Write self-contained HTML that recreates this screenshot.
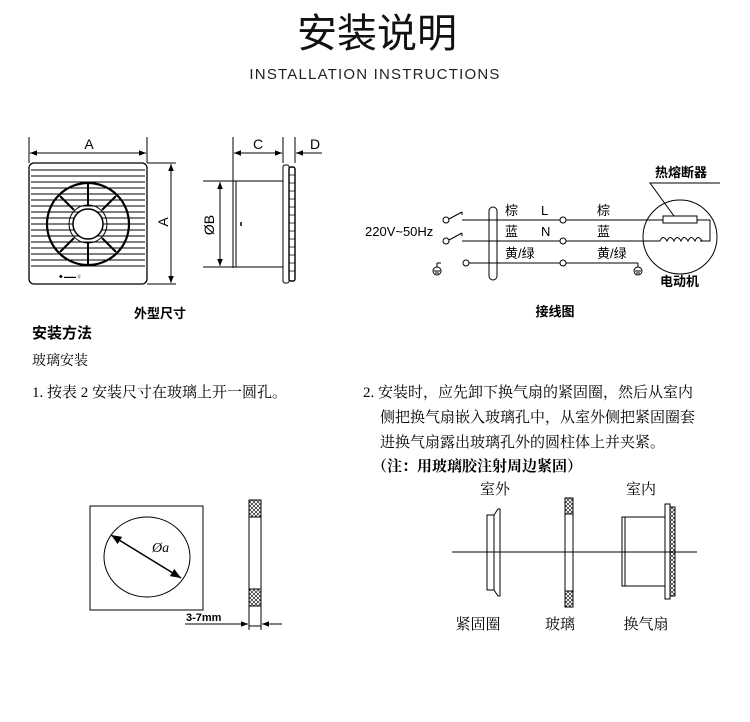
<!DOCTYPE html>
<html><head><meta charset="utf-8"><style>
body{margin:0;background:#fff;}
svg{display:block}
.s{font-family:"Liberation Sans","Noto Sans CJK SC",sans-serif;}
.r{font-family:"Liberation Serif","Noto Serif CJK SC",serif;}
</style></head><body>
<svg width="750" height="722" viewBox="0 0 750 722" xmlns="http://www.w3.org/2000/svg" stroke-linecap="butt">
<defs>
<marker id="ar" viewBox="0 0 10 10" refX="10" refY="5" markerWidth="7" markerHeight="7" orient="auto-start-reverse"><path d="M0,1 L10,5 L0,9 z" fill="#000"/></marker>
<pattern id="hx" width="4" height="4" patternUnits="userSpaceOnUse"><path d="M0,0 L4,4 M4,0 L0,4" stroke="#000" stroke-width="0.6"/></pattern>
</defs>
<text x="377" y="47" text-anchor="middle" class="s" font-size="40" fill="#111">安装说明</text>
<text x="375" y="79" text-anchor="middle" class="s" font-size="15" letter-spacing="1.2" fill="#222">INSTALLATION INSTRUCTIONS</text>

<g stroke="#000" fill="none" stroke-width="1">
<!-- front view -->
<line x1="29" y1="137" x2="29" y2="163"/><line x1="147" y1="137" x2="147" y2="163"/>
<line x1="30" y1="153" x2="146" y2="153" marker-start="url(#ar)" marker-end="url(#ar)"/>
<rect x="29" y="163" width="118" height="121" rx="5" stroke-width="1.3"/>
<line x1="147" y1="163" x2="176" y2="163"/><line x1="147" y1="284" x2="176" y2="284"/>
<line x1="171" y1="164" x2="171" y2="283" marker-start="url(#ar)" marker-end="url(#ar)"/>
<g stroke-width="0.9">
<line x1="31" y1="170" x2="145" y2="170"/><line x1="31" y1="176" x2="145" y2="176"/><line x1="31" y1="182" x2="145" y2="182"/><line x1="31" y1="188" x2="145" y2="188"/><line x1="31" y1="194" x2="145" y2="194"/><line x1="31" y1="200" x2="145" y2="200"/><line x1="31" y1="206" x2="145" y2="206"/><line x1="31" y1="212" x2="145" y2="212"/><line x1="31" y1="218" x2="145" y2="218"/><line x1="31" y1="224" x2="145" y2="224"/><line x1="31" y1="230" x2="145" y2="230"/><line x1="31" y1="236" x2="145" y2="236"/><line x1="31" y1="242" x2="145" y2="242"/><line x1="31" y1="248" x2="145" y2="248"/><line x1="31" y1="254" x2="145" y2="254"/><line x1="31" y1="260" x2="145" y2="260"/><line x1="31" y1="266" x2="145" y2="266"/>
</g>
<circle cx="88" cy="224" r="41" stroke-width="2.2"/>
<circle cx="88" cy="224" r="15" fill="#fff" stroke-width="1.5"/>
<circle cx="88" cy="224" r="19" stroke-width="1"/>
<g stroke-width="2"><line x1="88" y1="183" x2="88" y2="205"/><line x1="88" y1="243" x2="88" y2="265"/>
<line x1="60" y1="196" x2="74" y2="210"/><line x1="116" y1="196" x2="102" y2="210"/><line x1="60" y1="252" x2="74" y2="238"/><line x1="116" y1="252" x2="102" y2="238"/></g>
<!-- side view -->
<line x1="233" y1="137" x2="233" y2="268"/>
<line x1="283" y1="137" x2="283" y2="163"/><line x1="295" y1="137" x2="295" y2="163"/>
<line x1="234" y1="153" x2="282" y2="153" marker-start="url(#ar)" marker-end="url(#ar)"/>
<line x1="322" y1="153" x2="296" y2="153" marker-end="url(#ar)"/>
<line x1="203" y1="181" x2="283" y2="181"/><line x1="203" y1="267" x2="283" y2="267"/>
<line x1="220" y1="182" x2="220" y2="266" marker-start="url(#ar)" marker-end="url(#ar)"/>
<line x1="236" y1="181" x2="236" y2="267"/>
<line x1="241" y1="222" x2="241" y2="226" stroke-width="1.5"/>
<rect x="283" y="165" width="6" height="118" rx="2"/>
<rect x="289" y="167" width="6" height="114" rx="2" stroke-width="1.4"/>
<path d="M289,175 h6 M289,183 h6 M289,191 h6 M289,199 h6 M289,207 h6 M289,215 h6 M289,223 h6 M289,231 h6 M289,239 h6 M289,247 h6 M289,255 h6 M289,263 h6 M289,271 h6" stroke-width="0.8"/>
</g>
<text x="89" y="149" text-anchor="middle" class="s" font-size="14">A</text>
<text x="258" y="149" text-anchor="middle" class="s" font-size="14">C</text>
<text x="315" y="149" text-anchor="middle" class="s" font-size="14">D</text>
<text transform="translate(168,222) rotate(-90)" text-anchor="middle" class="s" font-size="14">A</text>
<text transform="translate(214,225) rotate(-90)" text-anchor="middle" class="s" font-size="14">ØB</text>
<text x="70" y="278" text-anchor="middle" class="s" font-size="4">◆ ▬▬▬ ⓪</text>
<text x="160" y="318" text-anchor="middle" class="s" font-size="13" font-weight="bold">外型尺寸</text>

<!-- wiring -->
<g stroke="#000" fill="none" stroke-width="1">
<circle cx="446" cy="220" r="3"/><circle cx="446" cy="241" r="3"/><circle cx="466" cy="263" r="3"/>
<line x1="449" y1="219" x2="462" y2="212"/><line x1="462" y1="212" x2="462" y2="215"/>
<line x1="449" y1="240" x2="462" y2="233"/><line x1="462" y1="233" x2="462" y2="236"/>
<line x1="462" y1="220" x2="560" y2="220"/><line x1="566" y1="220" x2="663" y2="220"/>
<line x1="462" y1="241" x2="560" y2="241"/><line x1="566" y1="241" x2="660" y2="241"/>
<line x1="469" y1="263" x2="560" y2="263"/><line x1="566" y1="263" x2="638" y2="263"/>
<line x1="441" y1="263" x2="437" y2="263"/><line x1="437" y1="263" x2="437" y2="267"/>
<line x1="638" y1="263" x2="638" y2="267"/>
<circle cx="563" cy="220" r="3"/><circle cx="563" cy="241" r="3"/><circle cx="563" cy="263" r="3"/>
<rect x="489" y="207" width="8" height="73" rx="4"/>
<circle cx="437" cy="271" r="4"/><line x1="434" y1="271" x2="440" y2="271"/><line x1="435" y1="273" x2="439" y2="273"/>
<circle cx="638" cy="271" r="4"/><line x1="635" y1="271" x2="641" y2="271"/><line x1="636" y1="273" x2="640" y2="273"/>
<circle cx="680" cy="237" r="37"/>
<rect x="663" y="216" width="34" height="7"/>
<path d="M697,220 h13 v21 h-10"/>
<path d="M660,241 q3,-7 7,0 q3,-7 7,0 q3,-7 7,0 q3,-7 7,0 q3,-7 7,0 q3,-7 7,0"/>
<path d="M720,183 h-70 l24,33"/>
</g>
<text x="365" y="236" class="s" font-size="13">220V~50Hz</text>
<g class="s" font-size="13" fill="#000">
<text x="505" y="215">棕</text><text x="541" y="215">L</text><text x="597" y="215">棕</text>
<text x="505" y="236">蓝</text><text x="541" y="236">N</text><text x="597" y="236">蓝</text>
<text x="505" y="258">黄/绿</text><text x="597" y="258">黄/绿</text>
<text x="655" y="177" font-weight="bold">热熔断器</text>
<text x="660" y="286" font-weight="bold">电动机</text>
<text x="555" y="316" text-anchor="middle" font-weight="bold">接线图</text>
</g>

<!-- text -->
<text x="32" y="338" class="s" font-size="15" font-weight="bold">安装方法</text>
<text x="32" y="365" class="r" font-size="14">玻璃安装</text>
<text x="32" y="397" class="r" font-size="15">1. 按表 2 安装尺寸在玻璃上开一圆孔。</text>
<g class="r" font-size="15">
<text x="363" y="397">2. 安装时，应先卸下换气扇的紧固圈，然后从室内</text>
<text x="380" y="422">侧把换气扇嵌入玻璃孔中，从室外侧把紧固圈套</text>
<text x="380" y="447">进换气扇露出玻璃孔外的圆柱体上并夹紧。</text>
<text x="372" y="471" font-weight="bold">（注：用玻璃胶注射周边紧固）</text>
</g>

<!-- bottom -->
<g stroke="#000" fill="none" stroke-width="1">
<rect x="90" y="506" width="113" height="104"/>
<ellipse cx="147" cy="557" rx="43" ry="40"/>
<line x1="111" y1="535" x2="181" y2="578" stroke-width="1.5" marker-start="url(#ar)" marker-end="url(#ar)"/>
<rect x="249" y="500" width="12" height="126"/>
<rect x="249" y="500" width="12" height="17" fill="url(#hx)"/>
<rect x="249" y="589" width="12" height="17" fill="url(#hx)"/>
<line x1="185" y1="624" x2="248" y2="624" marker-end="url(#ar)"/>
<line x1="282" y1="624" x2="262" y2="624" marker-end="url(#ar)"/>
<line x1="249" y1="610" x2="249" y2="630"/><line x1="261" y1="610" x2="261" y2="630"/>
<line x1="452" y1="552" x2="697" y2="552"/>
<rect x="487" y="515" width="7" height="75"/>
<path d="M494,515 L498,509 L500,509 L500,596 L498,596 L494,590"/>
<rect x="565" y="498" width="8" height="109"/>
<rect x="565" y="498" width="8" height="16" fill="url(#hx)"/>
<rect x="565" y="591" width="8" height="16" fill="url(#hx)"/>
<rect x="622" y="517" width="43" height="69"/>
<line x1="625" y1="517" x2="625" y2="586"/>
<rect x="665" y="504" width="5" height="95"/>
<rect x="670" y="507" width="5" height="89" fill="url(#hx)"/>
</g>
<text x="152" y="552" class="r" font-size="14" font-style="italic">Øa</text>
<text x="186" y="621" class="s" font-size="11" font-weight="bold">3-7mm</text>
<g class="r" font-size="15">
<text x="495" y="494" text-anchor="middle">室外</text>
<text x="641" y="494" text-anchor="middle">室内</text>
<text x="478" y="629" text-anchor="middle">紧固圈</text>
<text x="560" y="629" text-anchor="middle">玻璃</text>
<text x="646" y="629" text-anchor="middle">换气扇</text>
</g>
</svg>
</body></html>
